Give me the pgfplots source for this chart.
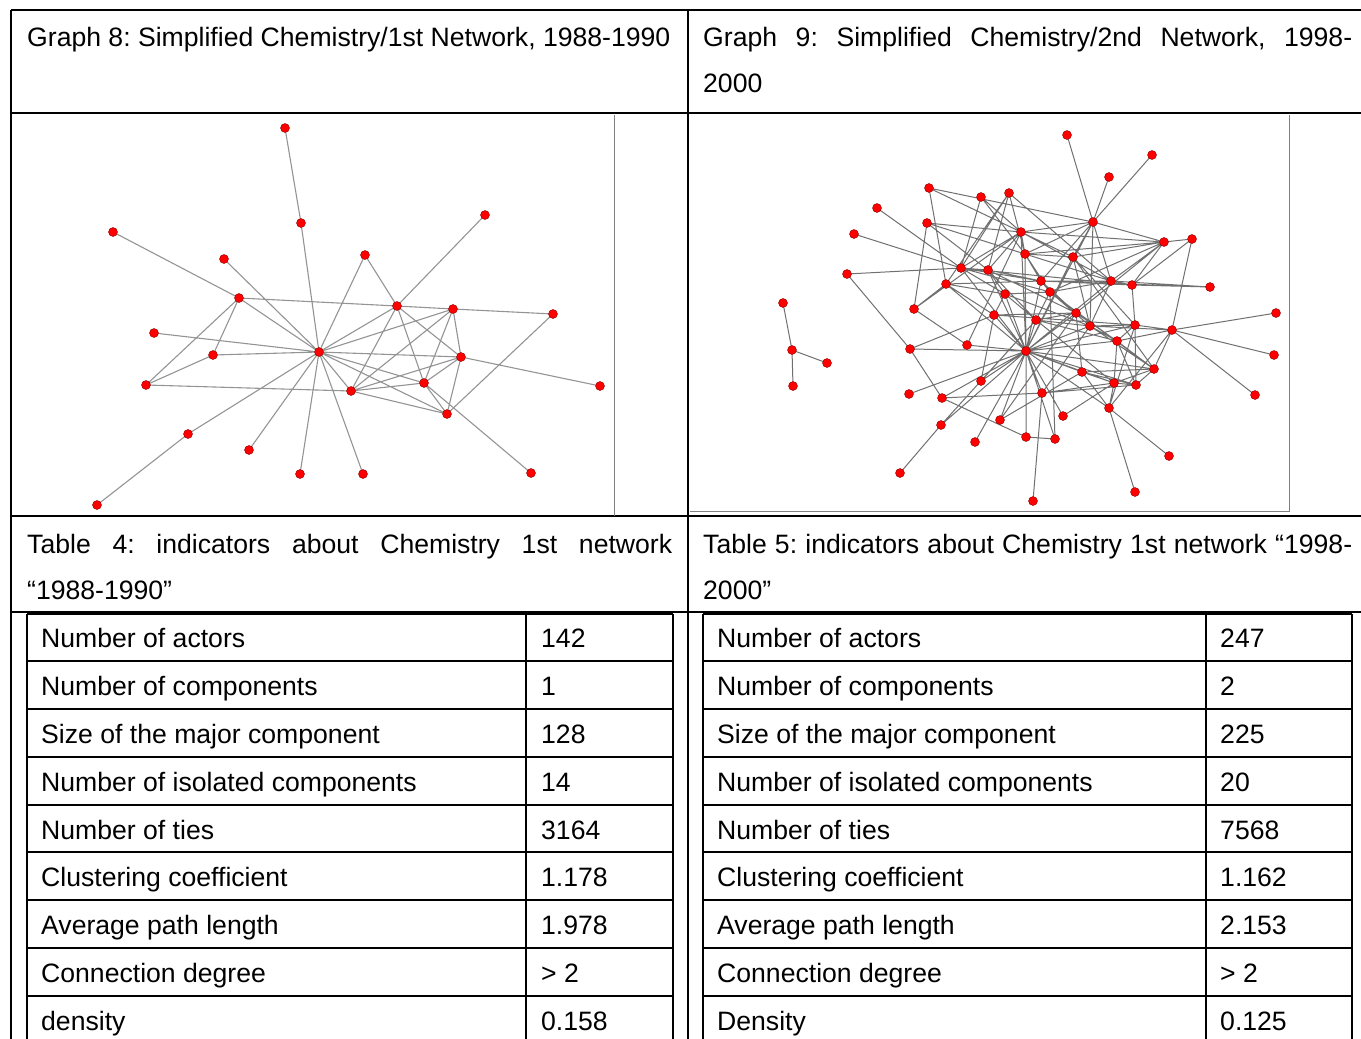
\documentclass[border=0pt]{standalone}
\usepackage{fontspec}
\setmainfont{Liberation Sans}
\usepackage{pgfplots}
\pgfplotsset{compat=1.18}
\tikzset{txt/.style={anchor=base west, inner sep=0pt, font=\fontsize{26.6}{32}\selectfont\frenchspacing}}
\begin{document}
\begin{tikzpicture}
\begin{axis}[
  scale only axis, width=1361pt, height=1039pt,
  xmin=0, xmax=1361, ymin=0, ymax=1039, y dir=reverse,
  hide axis, clip=false, enlargelimits=false,
  unbounded coords=jump,
]
% ---------- table frame ----------
\draw[line width=2pt] (11,10) -- (1361,10);
\draw[line width=2pt] (11,10) -- (11,1039);
\draw[line width=2pt] (688,10) -- (688,1039);
\draw[line width=1.6pt] (11,113) -- (1361,113);
\draw[line width=1.6pt] (11,516) -- (1361,516);
\draw[line width=2pt] (11,612) -- (1361,612);
% inner tables
\draw[line width=1.5pt] (27,614) -- (673,614) (27,661) -- (673,661) (27,709) -- (673,709)
  (27,757) -- (673,757) (27,805) -- (673,805) (27,852) -- (673,852) (27,900) -- (673,900)
  (27,948) -- (673,948) (27,996) -- (673,996);
\draw[line width=1.5pt] (703,614) -- (1352,614) (703,661) -- (1352,661) (703,709) -- (1352,709)
  (703,757) -- (1352,757) (703,805) -- (1352,805) (703,852) -- (1352,852) (703,900) -- (1352,900)
  (703,948) -- (1352,948) (703,996) -- (1352,996);
\draw[line width=1.5pt] (27,614) -- (27,1039);
\draw[line width=1.5pt] (526,614) -- (526,1039);
\draw[line width=1.5pt] (673,614) -- (673,1039);
\draw[line width=1.5pt] (703,614) -- (703,1039);
\draw[line width=1.5pt] (1206,614) -- (1206,1039);
\draw[line width=1.5pt] (1352,614) -- (1352,1039);
% picture frames
\draw[gray, line width=1pt] (614,115) -- (614,516);
\draw[gray, line width=1pt] (1289,115) -- (1289,511) -- (690,511);

% ---------- titles ----------
\node[txt] at (27,46) {Graph 8: Simplified Chemistry/1st Network, 1988-1990};
\node[txt] at (703,46) {\makebox[649pt][s]{Graph 9: Simplified Chemistry/2nd Network, 1998-}};
\node[txt] at (703,92) {2000};
\node[txt] at (27,553) {\makebox[645pt][s]{Table 4: indicators about Chemistry 1st network}};
\node[txt] at (27,599) {“1988-1990”};
\node[txt] at (703,553) {\makebox[649pt][s]{Table 5: indicators about Chemistry 1st network “1998-}};
\node[txt] at (703,599) {2000”};

% ---------- table 4 ----------
\node[txt] at (41,647) {Number of actors};
\node[txt] at (41,695) {Number of components};
\node[txt] at (41,743) {Size of the major component};
\node[txt] at (41,791) {Number of isolated components};
\node[txt] at (41,839) {Number of ties};
\node[txt] at (41,886) {Clustering coefficient};
\node[txt] at (41,934) {Average path length};
\node[txt] at (41,982) {Connection degree};
\node[txt] at (41,1030) {density};
\node[txt] at (541,647) {142};
\node[txt] at (541,695) {1};
\node[txt] at (541,743) {128};
\node[txt] at (541,791) {14};
\node[txt] at (541,839) {3164};
\node[txt] at (541,886) {1.178};
\node[txt] at (541,934) {1.978};
\node[txt] at (541,982) {> 2};
\node[txt] at (541,1030) {0.158};
% ---------- table 5 ----------
\node[txt] at (717,647) {Number of actors};
\node[txt] at (717,695) {Number of components};
\node[txt] at (717,743) {Size of the major component};
\node[txt] at (717,791) {Number of isolated components};
\node[txt] at (717,839) {Number of ties};
\node[txt] at (717,886) {Clustering coefficient};
\node[txt] at (717,934) {Average path length};
\node[txt] at (717,982) {Connection degree};
\node[txt] at (717,1030) {Density};
\node[txt] at (1220,647) {247};
\node[txt] at (1220,695) {2};
\node[txt] at (1220,743) {225};
\node[txt] at (1220,791) {20};
\node[txt] at (1220,839) {7568};
\node[txt] at (1220,886) {1.162};
\node[txt] at (1220,934) {2.153};
\node[txt] at (1220,982) {> 2};
\node[txt] at (1220,1030) {0.125};

% ---------- graph 8 edges ----------
\addplot[no marks, color=black!42, line width=1.1pt] coordinates {
(285,128)(301,223)(319,352) (nan,nan)
(113,232)(239,298)(397,306)(453,309)(553,314) (nan,nan)
(224,259)(319,352) (nan,nan)
(239,298)(319,352) (nan,nan)
(239,298)(146,385)(213,355)(239,298) (nan,nan)
(154,333)(319,352)(213,355) (nan,nan)
(146,385)(351,391) (nan,nan)
(97,505)(188,434)(319,352) (nan,nan)
(319,352)(365,255)(397,306)(485,215) (nan,nan)
(319,352)(397,306) (nan,nan)
(319,352)(453,309) (nan,nan)
(319,352)(461,357)(600,386) (nan,nan)
(319,352)(424,383)(531,473) (nan,nan)
(319,352)(447,414)(553,314) (nan,nan)
(319,352)(351,391) (nan,nan)
(319,352)(249,450) (nan,nan)
(319,352)(300,474) (nan,nan)
(319,352)(363,474) (nan,nan)
(397,306)(351,391)(453,309)(461,357)(447,414)(424,383)(453,309) (nan,nan)
(397,306)(424,383) (nan,nan)
(397,306)(461,357) (nan,nan)
(351,391)(447,414) (nan,nan)
(351,391)(424,383)(461,357) (nan,nan)
(351,391)(461,357) (nan,nan)
};
\addplot[only marks, mark=*, mark size=4.5pt, mark options={fill=red, draw=red!55!black, line width=0.4pt}] coordinates {
(285,128)(301,223)(113,232)(224,259)(239,298)(485,215)(365,255)(397,306)(453,309)(553,314)
(154,333)(213,355)(319,352)(146,385)(188,434)(249,450)(300,474)(97,505)(461,357)(351,391)
(424,383)(447,414)(600,386)(363,474)(531,473)
};

% ---------- graph 9 edges ----------
\addplot[no marks, color=black!56, line width=1pt] coordinates {
(1067,135)(1093,222)(1109,177) (nan,nan)
(1152,155)(1093,222) (nan,nan)
(783,303)(792,350)(827,363) (nan,nan) (792,350)(793,386) (nan,nan)
(1276,313)(1172,330)(1274,355) (nan,nan) (1255,395)(1172,330) (nan,nan)
(1135,492)(1109,408)(1169,456) (nan,nan)
(1033,501)(1042,393) (nan,nan)
(900,473)(941,425) (nan,nan)
(877,208)(961,268)(854,234) (nan,nan) (847,274)(961,268) (nan,nan)
(847,274)(910,349) (nan,nan)
(929,188)(1021,232) (nan,nan) (929,188)(946,284) (nan,nan)
(981,197)(961,268) (nan,nan) (981,197)(1021,232) (nan,nan) (981,197)(1025,254) (nan,nan)
(1009,193)(961,268) (nan,nan) (1009,193)(946,284) (nan,nan) (1009,193)(1025,254) (nan,nan) (1009,193)(988,270) (nan,nan) (1009,193)(1111,281) (nan,nan)
(927,223)(1021,232) (nan,nan) (927,223)(1025,254) (nan,nan) (927,223)(914,309)(946,284) (nan,nan) (927,223)(988,270) (nan,nan)
(914,309)(1021,232) (nan,nan)
(914,309)(967,345) (nan,nan)
(1093,222)(929,188) (nan,nan)
(1021,232)(1026,351)(1025,254)(1026,351)(1073,257)(1026,351)(961,268)(1026,351)(988,270)(1026,351)(946,284)(1026,351)(1041,281)(1026,351)(1005,294)(1026,351)(994,315)(1026,351)(1036,320)(1026,351)(1090,326)(1026,351)(1135,325)(1026,351)(1117,341)(1026,351)(1154,369)(1026,351)(1082,372)(1026,351)(1114,383)(1026,351)(1136,385)(1026,351)(1111,281)(1026,351)(1093,222)(1026,351)(1076,313)(1026,351)(910,349)(1026,351)(909,394)(1026,351)(942,398)(1026,351)(941,425)(1026,351)(975,442)(1026,351)(981,381)(1026,351)(1000,420)(1026,351)(967,345)(1026,351)(1026,437)(1026,351)(1055,439)(1026,351)(1063,416)(1026,351)(1109,408)(1026,351)(1042,393) (nan,nan)
(910,349)(994,315) (nan,nan)
(910,349)(942,398) (nan,nan)
(942,398)(1042,393) (nan,nan)
(942,398)(1026,437)(1055,439)(1050,292) (nan,nan)
(941,425)(1036,320) (nan,nan)
(981,381)(994,315) (nan,nan) (981,381)(1036,320) (nan,nan)
(1000,420)(1082,372) (nan,nan) (1000,420)(1076,313) (nan,nan)
(967,345)(1021,232) (nan,nan)
(1063,416)(1114,383) (nan,nan)
(1109,408)(1135,325) (nan,nan) (1109,408)(1172,330) (nan,nan)
(1114,383)(1042,393)(1136,385) (nan,nan) (1042,393)(1090,326) (nan,nan)
(1025,254)(1021,232)(1073,257) (nan,nan) (1093,222)(1021,232)(1164,242) (nan,nan) (961,268)(1021,232)(988,270) (nan,nan) (1021,232)(1111,281) (nan,nan)
(1073,257)(1025,254)(1041,281) (nan,nan) (1050,292)(1025,254)(1111,281) (nan,nan) (1025,254)(1093,222) (nan,nan)
(988,270)(961,268)(1041,281) (nan,nan) (1005,294)(961,268)(1132,285) (nan,nan) (961,268)(1050,292) (nan,nan)
(1005,294)(988,270)(1041,281) (nan,nan) (1036,320)(988,270)(1076,313) (nan,nan)
(1041,281)(946,284)(1005,294) (nan,nan) (946,284)(994,315) (nan,nan)
(1111,281)(1041,281)(1050,292) (nan,nan) (1076,313)(1041,281)(1132,285) (nan,nan) (1041,281)(1210,287) (nan,nan)
(1132,285)(1111,281)(1210,287) (nan,nan) (1164,242)(1111,281)(1050,292) (nan,nan) (1111,281)(1090,326) (nan,nan)
(1210,287)(1132,285)(1135,325) (nan,nan) (1164,242)(1132,285)(1192,239) (nan,nan)
(1192,239)(1164,242)(1050,292) (nan,nan) (1076,313)(1164,242)(1093,222) (nan,nan) (1025,254)(1164,242)(1073,257) (nan,nan)
(1192,239)(1172,330) (nan,nan)
(1073,257)(1093,222)(1041,281) (nan,nan) (1111,281)(1093,222)(1090,326) (nan,nan)
(1005,294)(1050,292)(1076,313) (nan,nan) (1036,320)(1050,292)(1090,326) (nan,nan) (1050,292)(1154,369) (nan,nan)
(994,315)(1005,294)(1036,320) (nan,nan) (1005,294)(1090,326) (nan,nan)
(1076,313)(994,315)(1135,325) (nan,nan)
(1036,320)(1076,313)(1117,341) (nan,nan) (1076,313)(1082,372) (nan,nan)
(1090,326)(1036,320)(1114,383) (nan,nan) (1036,320)(1117,341) (nan,nan)
(1135,325)(1090,326)(1172,330) (nan,nan) (1154,369)(1090,326)(1117,341) (nan,nan)
(1117,341)(1135,325)(1172,330) (nan,nan) (1135,325)(1136,385) (nan,nan)
(1154,369)(1117,341)(1114,383) (nan,nan) (1117,341)(1136,385) (nan,nan)
(1082,372)(1154,369)(1114,383) (nan,nan) (1154,369)(1136,385) (nan,nan)
(1114,383)(1082,372)(1136,385) (nan,nan) (1082,372)(1109,408) (nan,nan)
(1136,385)(1114,383)(1109,408) (nan,nan)
(1117,341)(1172,330)(1154,369) (nan,nan)
(1154,369)(1073,257)(1135,325) (nan,nan) (1073,257)(1090,326) (nan,nan)
};
\addplot[only marks, mark=*, mark size=4.5pt, mark options={fill=red, draw=red!55!black, line width=0.4pt}] coordinates {
(1067,135)(1152,155)(1109,177)(929,188)(981,197)(1009,193)(877,208)(1093,222)(927,223)(1021,232)
(854,234)(1164,242)(1192,239)(1025,254)(1073,257)(961,268)(988,270)(847,274)(946,284)(1041,281)
(1111,281)(1132,285)(1210,287)(1050,292)(1005,294)(914,309)(994,315)(1076,313)(1036,320)(1090,326)
(1135,325)(1172,330)(1276,313)(1117,341)(967,345)(910,349)(1026,351)(1274,355)(1154,369)(1082,372)
(1114,383)(1136,385)(981,381)(1042,393)(909,394)(942,398)(1255,395)(1109,408)(1063,416)(1000,420)
(941,425)(1026,437)(1055,439)(975,442)(1169,456)(900,473)(1135,492)(1033,501)(783,303)(792,350)
(827,363)(793,386)
};
\end{axis}
\pgfresetboundingbox
\path[use as bounding box] (current axis.south west) rectangle (current axis.north east);
\end{tikzpicture}
\end{document}
